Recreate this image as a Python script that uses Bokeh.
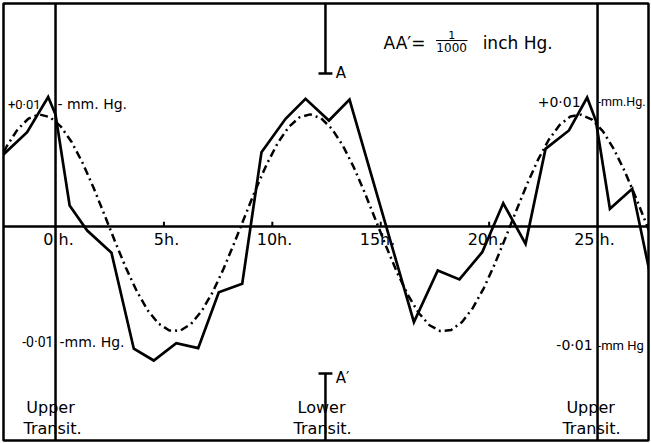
from bokeh.plotting import figure
from bokeh.models import Range1d, Span
from bokeh.core.properties import value
from bokeh.embed import file_html
from bokeh.resources import INLINE

# ---- data (hours after upper transit, pressure in 0.001 mm Hg) ----
solid_hours = [-2.45, -1.31, -0.34, 0.00, 0.65, 1.46, 2.58, 3.61, 4.53, 5.57,
               6.58, 7.53, 8.61, 9.50, 10.61, 11.53, 12.61, 13.56, 16.53, 17.63,
               18.63, 19.68, 20.65, 21.68, 22.60, 23.68, 24.52, 24.92, 25.57, 26.60,
               27.54]
solid_vals = [6.02, 7.99, 10.97, 9.49, 1.78, -0.34, -2.23, -10.36, -11.36, -9.89,
              -10.31, -5.57, -4.86, 6.30, 9.13, 10.82, 8.98, 10.76, -8.11, -3.73,
              -4.49, -2.18, 1.97, -1.47, 6.58, 8.14, 10.93, 8.98, 1.50, 3.19,
              -5.08]

curve_hours = [-2.75, -2.25, -1.75, -1.25, -0.75, -0.25, 0.25, 0.75, 1.25, 1.75,
               2.25, 2.75, 3.25, 3.75, 4.25, 4.75, 5.25, 5.75, 6.25, 6.75,
               7.25, 7.75, 8.25, 8.75, 9.25, 9.75, 10.25, 10.75, 11.25, 11.75,
               12.25, 12.75, 13.25, 13.75, 14.25, 14.75, 15.25, 15.75, 16.25, 16.75,
               17.25, 17.75, 18.25, 18.75, 19.25, 19.75, 20.25, 20.75, 21.25, 21.75,
               22.25, 22.75, 23.25, 23.75, 24.25, 24.75, 25.25, 25.75, 26.25, 26.75,
               27.25, 27.75]
curve_vals = [4.97, 6.80, 8.23, 9.14, 9.50, 9.26, 8.46, 7.14, 5.38, 3.30,
              1.02, -1.30, -3.52, -5.49, -7.10, -8.23, -8.82, -8.83, -8.26, -7.14,
              -5.55, -3.59, -1.37, 0.94, 3.22, 5.31, 7.08, 8.42, 9.25, 9.50,
              9.17, 8.27, 6.86, 5.04, 2.91, 0.62, -1.69, -3.88, -5.80, -7.33,
              -8.37, -8.87, -8.77, -8.10, -6.90, -5.24, -3.22, -0.98, 1.34, 3.59,
              5.64, 7.35, 8.60, 9.33, 9.48, 9.05, 8.06, 6.57, 4.69, 2.53,
              0.22, -2.08]

tick_hours = [5, 10, 15, 20]
tick_label_x = [0.14, 5.12, 10.1, 14.85, 19.83, 24.86]
tick_labels = ["0 h.", "5h.", "10h.", "15h.", "20h.", "25 h."]

upper_transits = [0.0, 25.0]
lower_transit = 12.45
bar_a = 12.97         # A
bar_a_prime = -12.46  # A'  (AA' = 1/1000 inch Hg = 25.4 x 0.001 mm Hg)

X0, X1 = -2.40, 27.35
Y0, Y1 = -18.14, 18.90

DEJA = value("DejaVu Sans")
ROBO = value("Roboto")

p = figure(width=651, height=443, x_range=Range1d(X0, X1), y_range=Range1d(Y0, Y1),
           output_backend="svg", toolbar_location=None,
           min_border_left=3, min_border_right=3, min_border_top=3, min_border_bottom=3,
           x_axis_type=None, y_axis_type=None)
p.xgrid.visible = False
p.ygrid.visible = False
p.outline_line_color = "black"
p.outline_line_width = 2.5
p.background_fill_color = "white"
p.border_fill_color = "white"

# zero line and transit lines
p.add_layout(Span(location=0, dimension="width", line_color="black", line_width=2.5))
for h in upper_transits:
    p.add_layout(Span(location=h, dimension="height", line_color="black", line_width=2.5))

# A / A' bars on lower transit
p.segment(x0=[lower_transit, lower_transit], y0=[Y1 + 1, bar_a_prime],
          x1=[lower_transit, lower_transit], y1=[bar_a, Y0 - 1],
          line_color="black", line_width=2.5)
p.segment(x0=[lower_transit - 0.32, lower_transit - 0.32], y0=[bar_a, bar_a_prime],
          x1=[lower_transit + 0.32, lower_transit + 0.32], y1=[bar_a, bar_a_prime],
          line_color="black", line_width=2.5)

# small ticks on the zero line
p.segment(x0=tick_hours, y0=[0] * len(tick_hours), x1=tick_hours, y1=[0.4] * len(tick_hours),
          line_color="black", line_width=2)

# data
p.line(curve_hours, curve_vals, line_color="black", line_width=2.5, line_dash="8 4 2 4")
p.line(solid_hours, solid_vals, line_color="black", line_width=2.7, line_join="miter")


def txt(xs, ys, texts, size="15px", align="left", font=DEJA, baseline="middle"):
    p.text(x=xs, y=ys, text=texts, text_font=font, text_font_size=size,
           text_align=align, text_baseline=baseline, text_color="black")


# hour labels
txt(tick_label_x, [-1.1] * len(tick_labels), tick_labels, size="16px", align="center")

# level labels (left side)
txt([-0.69], [10.34], ["+0·01"], size="13px", align="right", font=ROBO)
txt([0.09], [10.42], ["- mm. Hg."], size="14px")
txt([-0.1], [-9.83], ["-0·01"], size="14px", align="right", font=ROBO)
txt([0.18], [-9.83], ["-mm. Hg."], size="14px")
# level labels (right side)
txt([24.22], [10.59], ["+0·01"], size="14px", align="right")
txt([25.0], [10.59], ["-mm.Hg."], size="12.5px", font=ROBO)
txt([24.77], [-10.08], ["-0·01"], size="14px", align="right")
txt([25.0], [-10.08], ["-mm Hg"], size="13px", font=ROBO)

# transit labels
txt([-0.23, 12.27, 24.68], [-15.34] * 3, ["Upper", "Lower", "Upper"], size="16px", align="center")
txt([-0.14, 12.32, 24.72], [-17.12] * 3, ["Transit.", "Transit.", "Transit."], size="16px", align="center")

# A, A'
txt([12.92, 12.92], [13.05, -12.88], ["A", "A′"], size="15px")

# scale note
txt([15.13], [15.59], ["AA′="], size="17px")
txt([18.27], [16.2], ["1"], size="11px", align="center")
p.segment(x0=[17.55], y0=[15.76], x1=[19.0], y1=[15.76], line_color="black", line_width=1)
txt([18.27], [15.2], ["1000"], size="12px", align="center")
txt([19.7], [15.59], ["inch   Hg."], size="17px")

open("out.html", "w").write(file_html(p, INLINE))
